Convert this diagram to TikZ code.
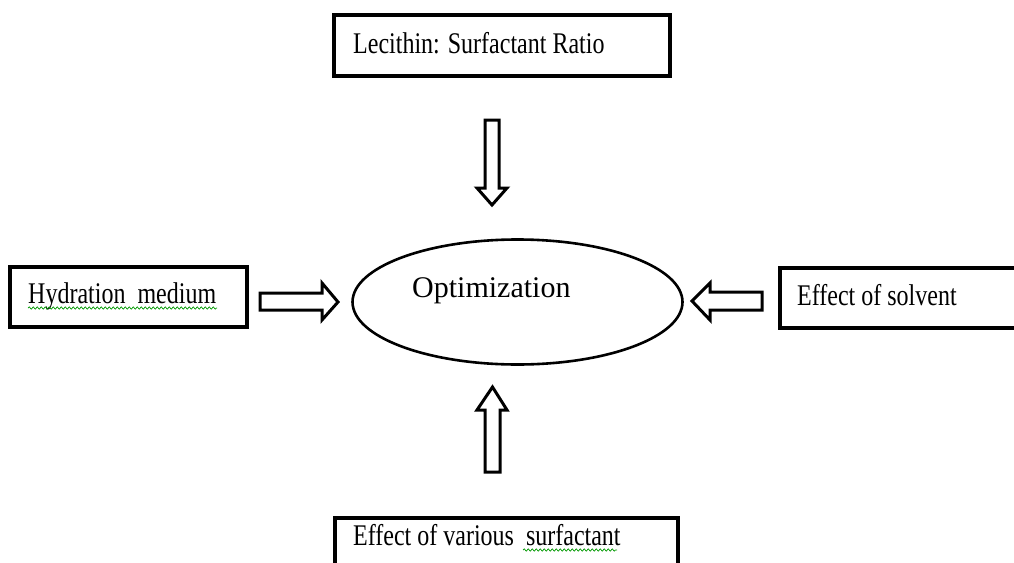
\documentclass[tikz,border=0pt]{standalone}
\usepackage{fontspec}
\setmainfont{Liberation Serif}
\usetikzlibrary{decorations.pathmorphing,shapes.geometric}
\tikzset{
  boxshape/.style={draw=black, line width=3.6pt, rectangle, inner sep=0pt},
  lbl/.style={anchor=base west, inner sep=0pt, font=\fontsize{30}{32}\selectfont},
  blockarrow/.style={draw=black, line width=3pt, line join=miter, fill=white},
  spell/.style={draw=green!60!black, line width=0.7pt, decorate, decoration={snake, segment length=4pt, amplitude=1.1pt}}
}
\newcommand{\sq}[1]{\scalebox{0.8}[1]{#1}}
\begin{document}
\begin{tikzpicture}[x=1pt,y=-1pt]
\clip (0,0) rectangle (1014,562);
\fill[white] (0,0) rectangle (1014,562);
% boxes
\draw[boxshape] (334,15) rectangle (670,76);
\draw[boxshape] (10,267) rectangle (247,327);
\draw[boxshape] (780,268) rectangle (1040,328);
\draw[boxshape] (335,518) rectangle (678,590);
% ellipse
\node[draw=black, line width=2.6pt, ellipse, minimum width=330pt, minimum height=125pt, inner sep=0pt] (opt) at (517.5,302) {};
% labels
\node[lbl] (top) at (353,53) {\sq{Lecithin: Surfactant Ratio}};
\node[lbl] (left) at (28,303) {\sq{Hydration\ \ medium}};
\node[lbl] (right) at (797,305) {\sq{Effect of solvent}};
\node[lbl] (bottom) at (353,545) {\sq{Effect of various\ \ surfactant}};
\node[lbl] (optl) at (412,297) {Optimization};
% spell-check squiggles
\draw[spell] (28,308) -- (217,308);
\draw[spell] (523,550) -- (617,550);
% block arrows
\draw[blockarrow] (485,120) -- (499,120) -- (499,188) -- (507,188) -- (492,205) -- (477,188) -- (485,188) -- cycle;
\draw[blockarrow] (485,472) -- (500,472) -- (500,410) -- (507,410) -- (492.5,387) -- (477,410) -- (485,410) -- cycle;
\draw[blockarrow] (260,293) -- (322,293) -- (322,283) -- (338,302) -- (322,320) -- (322,310) -- (260,310) -- cycle;
\draw[blockarrow] (762,292) -- (710,292) -- (710,283) -- (692,301) -- (710,320) -- (710,310) -- (762,310) -- cycle;
\end{tikzpicture}
\end{document}
